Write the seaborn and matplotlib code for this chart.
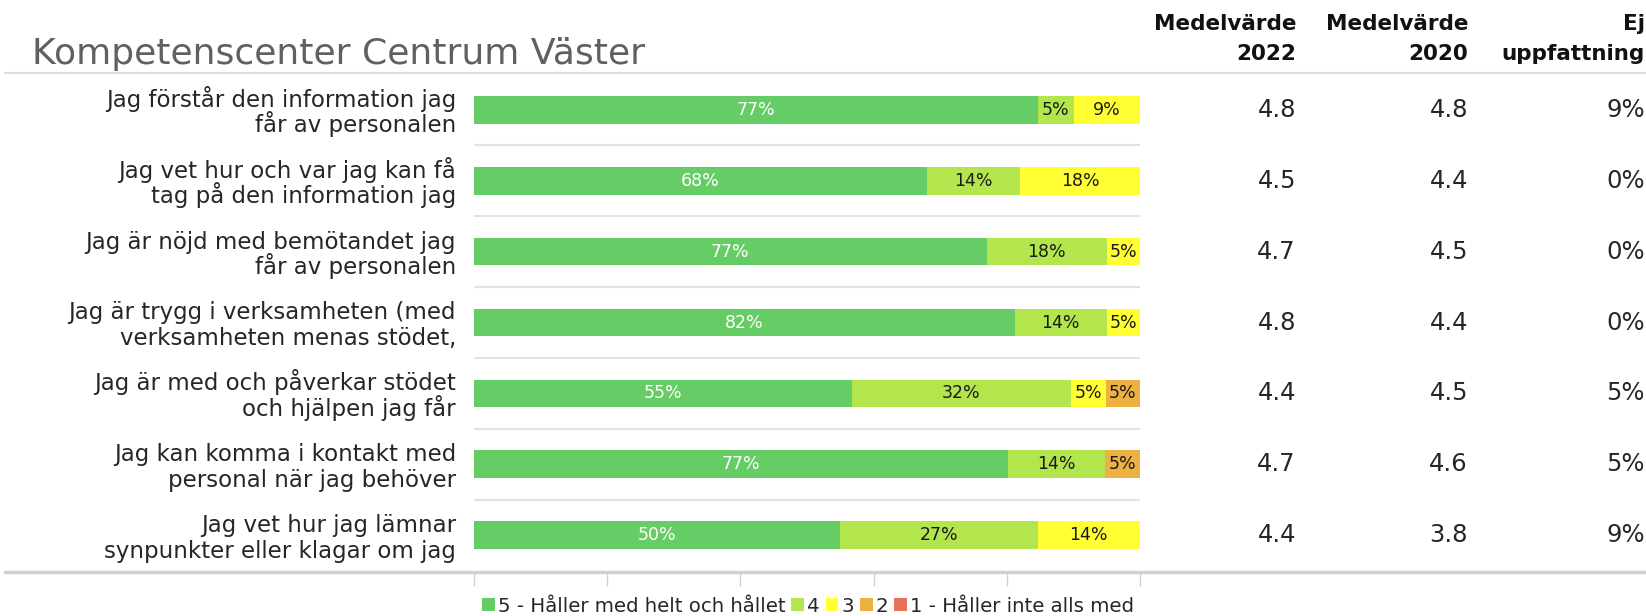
import matplotlib
matplotlib.use("Agg")
import matplotlib.pyplot as plt
import matplotlib.transforms as mtransforms
from matplotlib.lines import Line2D
from matplotlib.patches import Patch
import seaborn as sns
import numpy as np

# ---------------- data ----------------
categories = [
    "Jag förstår den information jag\nfår av personalen",
    "Jag vet hur och var jag kan få\ntag på den information jag",
    "Jag är nöjd med bemötandet jag\nfår av personalen",
    "Jag är trygg i verksamheten (med\nverksamheten menas stödet,",
    "Jag är med och påverkar stödet\noch hjälpen jag får",
    "Jag kan komma i kontakt med\npersonal när jag behöver",
    "Jag vet hur jag lämnar\nsynpunkter eller klagar om jag",
]
v5 = [77, 68, 77, 82, 55, 77, 50]
v4 = [5, 14, 18, 14, 32, 14, 27]
v3 = [9, 18, 5, 5, 5, 0, 14]
v2 = [0, 0, 0, 0, 5, 5, 0]
v1 = [0, 0, 0, 0, 0, 0, 0]
mean_2022 = [4.8, 4.5, 4.7, 4.8, 4.4, 4.7, 4.4]
mean_2020 = [4.8, 4.4, 4.5, 4.4, 4.5, 4.6, 3.8]
no_opinion = [9, 0, 0, 0, 5, 5, 9]
series_names = ["5 - Håller med helt och hållet", "4", "3", "2", "1 - Håller inte alls med"]
colors = ["#66CC66", "#B3E64D", "#FFFF33", "#EDB043", "#E4735A"]
title = "Kompetenscenter Centrum Väster"
col_headers = [("Medelvärde", "2022"), ("Medelvärde", "2020"), ("Ej", "uppfattning")]

# ---------------- figure ----------------
sns.set_theme(style="white")
plt.rcParams["font.family"] = ["DejaVu Sans"]

W, H = 1646, 616
ax_top, ax_bot = 74.5, 570.5
fig = plt.figure(figsize=(W / 100, H / 100), dpi=100)
ax = fig.add_axes([474 / W, 1 - ax_bot / H, 666 / W, (ax_bot - ax_top) / H])
row_px = (ax_bot - ax_top) / 7.0

vals = np.array([v5, v4, v3, v2, v1], dtype=float)
shares = vals / vals.sum(axis=0)
cum = np.cumsum(shares, axis=0)

for k in reversed(range(5)):
    sns.barplot(x=cum[k], y=categories, orient="h", color=colors[k],
                saturation=1, width=27.5 / row_px, ax=ax, edgecolor="none", linewidth=0)

# segment labels
for i in range(len(categories)):
    left = 0.0
    for k in range(5):
        s = shares[k, i]
        if vals[k, i] > 0:
            ax.text(left + s / 2, i, f"{int(vals[k, i])}%", ha="center", va="center",
                    fontsize=12.5, color="white" if k == 0 else "#1a1a1a")
        left += s

ax.set_xlim(0, 1)
ax.set_ylim(6.5, -0.5)
for y in np.arange(0.5, 6.5, 1.0):
    ax.axhline(y, color="#E3E3E3", lw=1.5, zorder=0)

for sp in ax.spines.values():
    sp.set_visible(False)
ax.set_xlabel("")
ax.set_ylabel("")
ax.set_xticks(np.linspace(0, 1, 6))
ax.set_xticklabels([])
ax.set_yticks(range(len(categories)))
ax.set_yticklabels([])
ax.tick_params(axis="x", bottom=True, length=11, width=1, color="#D0D0D0", direction="out")
ax.tick_params(axis="y", left=False, length=0)

# category labels (right aligned, two lines placed individually)
ytrans = mtransforms.blended_transform_factory(ax.transAxes, ax.transData)
for i, cat in enumerate(categories):
    lines = cat.split("\n")
    offs = [-3 / row_px, 22.5 / row_px]
    for line, off in zip(lines, offs):
        ax.text(-18 / 666, i + off, line, transform=ytrans, ha="right", va="baseline",
                fontsize=16.5, color="#262626")

# horizontal rules
fig.add_artist(Line2D([5 / W, 1], [1 - 73 / H] * 2, color="#DDDDDD", lw=1.5,
                      transform=fig.transFigure))
fig.add_artist(Line2D([5 / W, 1], [1 - 572 / H] * 2, color="#D0D0D0", lw=2.5,
                      transform=fig.transFigure))

# title
fig.text(32 / W, 1 - 64 / H, title, fontsize=26, color="#606060", va="baseline", ha="left")

# right-hand columns
col_x = [1296 / W, 1468 / W, 1645 / W]
for cx, (h1, h2) in zip(col_x, col_headers):
    fig.text(cx, 1 - 30 / H, h1, ha="right", va="baseline", fontsize=15.5,
             fontweight="bold", color="#111111")
    fig.text(cx, 1 - 60 / H, h2, ha="right", va="baseline", fontsize=15.5,
             fontweight="bold", color="#111111")
trans = mtransforms.blended_transform_factory(fig.transFigure, ax.transData)
for i in range(len(categories)):
    yb = i + 7 / row_px
    ax.text(col_x[0], yb, f"{mean_2022[i]:.1f}", transform=trans, ha="right", va="baseline",
            fontsize=17.5, color="#262626")
    ax.text(col_x[1], yb, f"{mean_2020[i]:.1f}", transform=trans, ha="right", va="baseline",
            fontsize=17.5, color="#262626")
    ax.text(col_x[2], yb, f"{no_opinion[i]}%", transform=trans, ha="right", va="baseline",
            fontsize=17.5, color="#262626")

# legend
handles = [Patch(facecolor=c, edgecolor="none") for c in colors]
fig.legend(handles, series_names, loc="center", bbox_to_anchor=(808 / W, 1 - 606 / H),
           ncol=5, frameon=False, fontsize=14.2, handlelength=0.65, handleheight=0.65,
           handletextpad=0.15, columnspacing=0.3, labelcolor="#262626")

fig.savefig("out.png", dpi=100)
